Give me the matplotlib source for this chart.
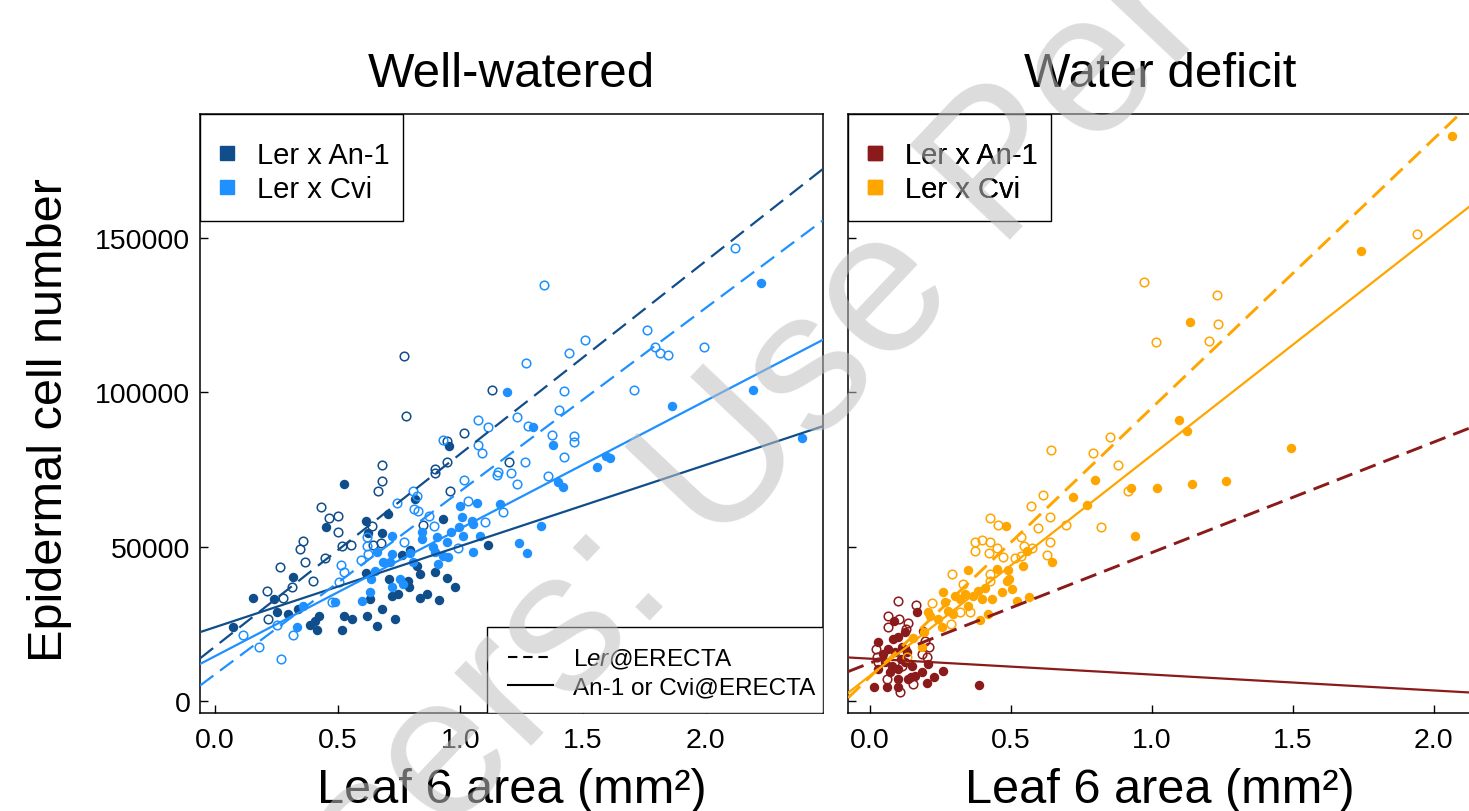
import numpy as np
import matplotlib
matplotlib.use("Agg")
import matplotlib.pyplot as plt
from matplotlib.lines import Line2D
from matplotlib.patches import Rectangle

plt.rcParams['font.family'] = ['Liberation Sans', 'DejaVu Sans']
plt.rcParams['mathtext.fontset'] = 'custom'
plt.rcParams['mathtext.rm'] = 'Liberation Sans'
plt.rcParams['mathtext.it'] = 'Liberation Sans:italic'

# ---- Well-watered, Ler x An-1 ----
ww_an1_erA_x = [0.156, 0.075, 0.240, 0.251, 0.299, 0.319, 0.337, 0.387, 0.407, 0.414, 0.425,
                0.452, 0.516, 0.525, 0.525, 0.559, 0.615, 0.615, 0.618, 0.624, 0.631, 0.659,
                0.679, 0.679, 0.706, 0.709, 0.720, 0.733, 0.747, 0.760, 0.787, 0.794, 0.791,
                0.815, 0.822, 0.835, 0.835, 0.862, 0.896, 0.914, 0.927, 0.944, 0.953, 0.978, 1.113]
ww_an1_erA_y = [33400, 24100, 33000, 28700, 28200, 40300, 29800, 24700, 26000, 23000, 27400,
                56400, 23100, 70300, 27600, 26600, 58400, 41500, 27400, 54300, 33000, 24400,
                54300, 29800, 60500, 39500, 34100, 26600, 34700, 47300, 39000, 49000, 36800,
                65400, 43800, 41100, 33300, 34700, 41700, 32700, 59000, 39800, 82700, 37000, 50500]
ww_an1_ler_x = [0.217, 0.211, 0.265, 0.278, 0.312, 0.346, 0.360, 0.367, 0.400, 0.431, 0.448,
                0.466, 0.502, 0.502, 0.516, 0.553, 0.638, 0.645, 0.665, 0.679, 0.679, 0.675,
                0.777, 0.770, 0.848, 0.896, 0.897, 0.946, 0.944, 0.957, 1.014, 1.127, 1.199]
ww_an1_ler_y = [26600, 35700, 43300, 33300, 36800, 49200, 51900, 44900, 39000, 62800, 46200,
                59200, 60000, 54700, 50300, 50600, 56800, 50600, 68100, 76600, 71400, 51100,
                92200, 111800, 57000, 75200, 73900, 77500, 84300, 68100, 86700, 100800, 77300]

# ---- Well-watered, Ler x Cvi ----
ww_cvi_erA_x = [0.333, 0.360, 0.489, 0.598, 0.631, 0.634, 0.652, 0.659, 0.683, 0.713, 0.720,
                0.720, 0.720, 0.754, 0.767, 0.794, 0.808, 0.842, 0.842, 0.889, 0.896, 0.903,
                0.910, 0.930, 0.944, 0.950, 0.960, 0.995, 0.998, 1.005, 1.011, 1.046, 1.050,
                1.052, 1.066, 1.079, 1.161, 1.240, 1.270, 1.328, 1.191, 1.297, 1.378, 1.398,
                1.419, 1.557, 1.593, 1.609, 1.863, 2.224, 2.193, 2.392]
ww_cvi_erA_y = [23900, 30900, 32000, 32500, 35200, 39500, 42200, 48200, 44900, 44900, 53600,
                47600, 36800, 39500, 37900, 48000, 44900, 54700, 52500, 49800, 48200, 53000,
                44400, 47100, 51400, 46600, 54900, 56300, 63300, 59500, 53600, 58400, 48400,
                57300, 64100, 53600, 63800, 51200, 48000, 56800, 100000, 88700, 83000, 70900,
                69200, 75700, 79300, 78600, 95500, 135300, 100800, 85100]
ww_cvi_ler_x = [0.113, 0.180, 0.269, 0.316, 0.254, 0.475, 0.506, 0.512, 0.525, 0.593, 0.618,
                0.618, 0.624, 0.740, 0.770, 0.808, 0.822, 0.812, 0.828, 0.873, 0.893, 0.927,
                0.991, 1.015, 1.032, 1.070, 1.070, 1.086, 1.100, 1.113, 1.147, 1.154, 1.204,
                1.174, 1.229, 1.229, 1.341, 2.118, 1.762, 1.508, 1.442, 1.266, 1.992, 1.792,
                1.813, 1.844, 1.423, 1.707, 1.402, 1.274, 1.372, 1.464, 1.464, 1.422, 1.264, 1.356]
ww_cvi_ler_y = [21500, 17400, 13600, 21500, 24600, 32200, 38700, 44100, 41700, 45800, 50300,
                53000, 47600, 64100, 51600, 68100, 66500, 62200, 61700, 60000, 56800, 84700,
                49500, 71600, 64900, 91000, 82900, 80300, 57900, 88700, 73300, 74300, 73900,
                61100, 91900, 70300, 134800, 146800, 120200, 117000, 112800, 109600, 114600, 114600,
                112800, 112100, 100300, 100800, 94300, 89000, 86200, 85900, 83800, 79100, 77300, 72900]

# ---- Water deficit, Ler x An-1 ----
wd_an1_erA_x = [0.015, 0.059, 0.100, 0.201, 0.228, 0.260, 0.388, 0.029, 0.083, 0.086, 0.166,
                0.124, 0.065, 0.089, 0.112, 0.053, 0.077, 0.100, 0.124, 0.148, 0.160, 0.183,
                0.207, 0.029, 0.100, 0.136, 0.071, 0.189, 0.130, 0.047, 0.099, 0.111, 0.146]
wd_an1_erA_y = [4400, 4400, 4400, 5800, 7700, 9800, 5200, 19200, 20100, 26000, 28700,
                22300, 16800, 15800, 17400, 12500, 11400, 10400, 12500, 11400, 8200, 9300,
                12000, 10400, 7100, 7100, 9300, 22800, 15800, 15200, 20600, 13600, 7700]
wd_an1_ler_x = [0.100, 0.163, 0.063, 0.065, 0.104, 0.136, 0.128, 0.021, 0.024, 0.195, 0.210,
                0.183, 0.112, 0.059, 0.154, 0.106, 0.029, 0.201]
wd_an1_ler_y = [32300, 31200, 27400, 23900, 26600, 25300, 23300, 16800, 14200, 19500, 17400,
                15200, 11400, 7100, 5500, 3000, 12500, 14200]

# ---- Water deficit, Ler x Cvi ----
wd_cvi_erA_x = [0.481, 0.349, 0.451, 0.490, 0.493, 0.544, 0.556, 0.644, 0.520, 0.565, 0.390,
                0.420, 0.260, 0.266, 0.301, 0.319, 0.337, 0.349, 0.366, 0.384, 0.396, 0.408,
                0.432, 0.467, 0.485, 0.502, 0.207, 0.213, 0.242, 0.254, 0.154, 0.183, 0.193,
                0.278, 0.295, 0.721, 0.768, 0.798, 0.926, 1.017, 0.940, 1.135, 1.097, 1.123,
                1.492, 1.741, 2.063, 1.143, 1.261]
wd_cvi_erA_y = [56600, 42400, 42800, 42500, 39500, 43800, 48700, 45100, 32500, 33800, 26300,
                28200, 35400, 32000, 34100, 33000, 34700, 30900, 34100, 35700, 33000, 36500,
                33000, 35200, 39000, 36300, 28900, 27600, 26600, 23900, 20300, 17400, 22300,
                29300, 28200, 66200, 63500, 71600, 68900, 68900, 53400, 122700, 91100, 87600,
                81900, 145700, 183000, 70300, 71400]
wd_cvi_ler_x = [0.642, 0.851, 0.792, 0.878, 0.615, 0.571, 0.597, 0.638, 0.695, 0.819, 0.914,
                0.426, 0.453, 0.372, 0.398, 0.426, 0.449, 0.372, 0.422, 0.471, 0.535, 0.546,
                0.573, 0.535, 0.514, 0.627, 0.638, 0.292, 0.426, 0.331, 0.426, 0.219, 0.319,
                0.355, 0.287, 0.130, 1.014, 1.229, 1.234, 1.203, 1.939, 0.973]
wd_cvi_ler_y = [81400, 85400, 80300, 76600, 66800, 63100, 56000, 59500, 57100, 56500, 67900,
                59300, 57100, 51400, 52300, 51600, 49600, 48700, 48000, 46800, 53000, 50300,
                49500, 47100, 46200, 47300, 51400, 41100, 41100, 37900, 39000, 31800, 28700,
                28700, 24900, 14200, 116200, 131500, 122100, 116500, 151300, 135700]

# fitted lines: (intercept, slope)
ww_an1_fit_ler = (17600, 62500)
ww_an1_fit_erA = (23900, 26300)
ww_cvi_fit_ler = (8600, 59400)
ww_cvi_fit_erA = (14500, 41400)
wd_an1_fit_ler = (12300, 35800)
wd_an1_fit_erA = (13700, -5150)
wd_cvi_fit_ler = (7800, 87200)
wd_cvi_fit_erA = (8200, 71500)

dark_blue, light_blue = '#104E8B', '#1E90FF'
dark_red, orange = '#8B1A1A', '#FFA500'

W, H = 1469, 812
fig = plt.figure(figsize=(W / 100, H / 100), dpi=100)
ax1 = fig.add_axes([200 / W, 1 - 714 / H, 623 / W, 599 / H])
ax2 = fig.add_axes([848 / W, 1 - 714 / H, 624 / W, 599 / H])


def draw_panel(ax, groups, xlim, lw_dash):
    for xf, yf, xo, yo, col, fit_ler, fit_era in groups:
        ax.plot(xf, yf, 'o', ms=6.8, mfc=col, mec=col, mew=0, zorder=2)
        ax.plot(xo, yo, 'o', ms=6.2, mfc='none', mec=col, mew=1.1, zorder=2)
    xs = np.array(xlim)
    for xf, yf, xo, yo, col, fit_ler, fit_era in groups:
        ax.plot(xs, fit_ler[0] + fit_ler[1] * xs, color=col, lw=lw_dash,
                dashes=(8 * 1.5 / lw_dash, 4 * 1.5 / lw_dash), zorder=3)
        ax.plot(xs, fit_era[0] + fit_era[1] * xs, color=col, lw=1.6, zorder=3)
    ax.set_xlim(xlim)
    ax.set_ylim(-3900, 190200)
    ax.set_xticks([0, 0.5, 1.0, 1.5, 2.0])
    ax.set_xticklabels(['0.0', '0.5', '1.0', '1.5', '2.0'])
    ax.set_yticks([0, 50000, 100000, 150000])
    ax.tick_params(direction='in', length=6, width=1, labelsize=20.5, pad=7)
    ax.tick_params(axis='x', pad=10)
    for sp in ax.spines.values():
        sp.set_linewidth(1.1)


draw_panel(ax1, [
    (ww_an1_erA_x, ww_an1_erA_y, ww_an1_ler_x, ww_an1_ler_y, dark_blue, ww_an1_fit_ler, ww_an1_fit_erA),
    (ww_cvi_erA_x, ww_cvi_erA_y, ww_cvi_ler_x, ww_cvi_ler_y, light_blue, ww_cvi_fit_ler, ww_cvi_fit_erA),
], (-0.061, 2.477), 1.6)
draw_panel(ax2, [
    (wd_an1_erA_x, wd_an1_erA_y, wd_an1_ler_x, wd_an1_ler_y, dark_red, wd_an1_fit_ler, wd_an1_fit_erA),
    (wd_cvi_erA_x, wd_cvi_erA_y, wd_cvi_ler_x, wd_cvi_ler_y, orange, wd_cvi_fit_ler, wd_cvi_fit_erA),
], (-0.078, 2.135), 2.1)
ax2.tick_params(labelleft=False)

# genotype legends (frame drawn as a box in the upper-left corner)
for ax, cols in [(ax1, (dark_blue, light_blue)), (ax2, (dark_red, orange))]:
    wpx = ax.get_position().width * W
    ax.add_patch(Rectangle((0, 1 - 107 / 599), 203 / wpx, 107 / 599, transform=ax.transAxes,
                           facecolor='white', edgecolor='black', lw=1.0, zorder=4))
    hs = [Line2D([], [], ls='none', marker='s', ms=10, mfc=c, mec=c) for c in cols]
    leg = ax.legend(hs, ['Ler x An-1', 'Ler x Cvi'], loc='upper left',
                    bbox_to_anchor=(0.002, 1 - 10 / 599), borderaxespad=0,
                    fontsize=21, handlelength=0.6, handletextpad=0.7, borderpad=0.6,
                    labelspacing=0.2, frameon=False)
    leg.set_zorder(5)
    ax.add_artist(leg)

# line-type legend
ax1.add_patch(Rectangle((1 - 336 / 623, 0), 336 / 623, 86 / 599, transform=ax1.transAxes,
                        facecolor='white', edgecolor='black', lw=1.0, zorder=4))
hl = [Line2D([], [], color='black', lw=1.5, dashes=(4.5, 2.8)),
      Line2D([], [], color='black', lw=1.5)]
leg2 = ax1.legend(hl, [r'L$\mathit{er}$@ERECTA', 'An-1 or Cvi@ERECTA'], loc='lower right',
                  bbox_to_anchor=(1 + 6 / 623, 1 / 599), borderaxespad=0, fontsize=17.5,
                  handlelength=1.85, handletextpad=0.85, borderpad=0.55, labelspacing=0.22,
                  frameon=False)
leg2.set_zorder(5)

for cx, title in [(511.5 / W, 'Well-watered'), (1160 / W, 'Water deficit')]:
    fig.text(cx, 1 - 87 / H, title, fontsize=35.5, ha='center', va='baseline')
    fig.text(cx, 1 - 803 / H, 'Leaf 6 area (mm²)', fontsize=35, ha='center', va='baseline')
fig.text(50 / W, 1 - 420 / H, 'Epidermal cell number', fontsize=35, rotation=90,
         ha='center', va='center')

# watermark
fig.text(0.482, 0.403, 'Users: Use Per', fontsize=145, rotation=46.6, rotation_mode='anchor',
         color='#c0c0c0', alpha=0.55, ha='center', va='center', zorder=20)

fig.savefig('out.png', dpi=100)
